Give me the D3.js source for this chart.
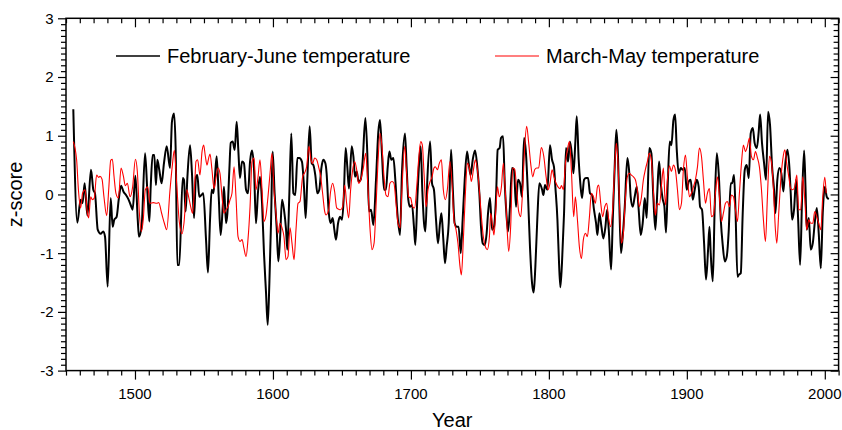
<!DOCTYPE html>
<html>
<head>
<meta charset="utf-8">
<script src="https://cdn.jsdelivr.net/npm/d3@7/dist/d3.min.js"></script>
<style>
  html, body { margin: 0; padding: 0; background: #fff; }
  svg { display: block; font-family: "Liberation Sans", Arial, sans-serif; }
</style>
</head>
<body>
<svg id="chart" width="842" height="430"></svg>
<script>
// ---------------- DATA ----------------
const fjYears = [1455.3,1458.2,1460.6,1462,1463.5,1465.5,1468.1,1469.8,1471,1473,1475.1,1477,1478.3,1480.2,1482.4,1483.8,1485,1486.7,1488.2,1489.9,1491.6,1493.5,1495.2,1497.4,1498.3,1500.3,1502,1502.9,1504.8,1507.3,1508.9,1510.4,1511.4,1512.8,1514,1515.2,1516.2,1517.6,1519.3,1521,1523,1525.4,1526.8,1528.3,1529.5,1530.7,1532.1,
1534.6,1535.5,1536.7,1538,1539.9,1541.3,1542.8,1544.2,1545.2,1546.6,1548.1,1549.5,1551.5,1552.9,1554.4,1555.6,1556.8,1557.8,1559.2,1560.7,1562.1,1563.6,1564.5,1566,1567,1568.4,1569.4,1570.8,1572.3,1573.7,1574.9,1576.1,1577.6,1579,1580.5,1581.9,1583.4,1584.8,1586.3,1587.7,1589.2,1590.6,1592.1,1593.5,1595,1596.2,1597.4,1598.6,1599.8,1601.2,1602.7,1603.9,1605.1,1606.6,1608,1609.5,1610.4,1611.9,1613.3,1614.8,1616.2,1617.7,1619.1,
1621,1622.5,1623.7,1624.9,1626.6,1628.1,1629.3,1630.7,1632.2,1633.6,1635.1,1636.5,1638,1638.9,1640.4,1641.8,1643.3,1644.5,1645.7,1647.2,1648.6,1650.1,1651.3,1652.7,1653.9,1655.1,1657.1,1658.3,1659.5,1660.7,1662.1,1663.6,1665,1667,1668.4,1669.6,1671.1,1672.8,1674.7,1676.4,1677.6,1679,1680.5,1681.9,1683.2,1684.4,1685.8,1687.3,1688.7,1690.2,1692.1,1693.5,1695.7,1696.9,1698.1,1699.3,1700.8,1702.2,1703.2,1704.7,1706.1,1707.1,
1708.3,1709.5,1710.5,1711.9,1713.9,1715.3,1716.7,1718.2,1719.6,1721.1,1722.1,1723.5,1724.7,1725.9,1727.4,1729.1,1730.3,1731.7,1733.2,1734.6,1736.1,1737.5,1739,1740.7,1741.9,1743.3,1744.8,1746.5,1748.2,1749.6,1750.8,1752,1753.5,1754.9,1755.9,1757.3,1758.8,1760.2,1761.7,1762.9,1764.3,1765.3,1766.8,1768,1769.2,1770.4,1771.8,1773.3,1774.7,1776.2,1777.6,1779.1,1780.5,1782,1783.4,1784.9,1786.3,1787.8,1789,1790.2,1791.6,1793.1,
1795.1,1796,1797.2,1798.9,1800.8,1802.3,1803.7,1804.7,1806.2,1807.1,1808.3,1809.5,1811,1812.4,1813.9,1815.3,1816.8,1817.8,1819.2,1820.2,1821.6,1822.8,1824,1825.5,1826.9,1828.4,1829.8,1831.3,1832.7,1834.2,1835.2,1836.6,1838.1,1839.5,1841,1842.2,1843.4,1845.1,1846.3,1847.7,1848.9,1850.1,1851.1,1852.3,1853.5,1855,1856.9,1858.3,1859.3,1860.8,1862.2,1863.7,1865.1,1866.6,1868,1869.5,1870.9,1872.8,1874.3,1875.7,1877.2,1878.6,1879.9,1881.1,
1882.5,1883.7,1884.9,1886.2,1887.6,1888.8,1890.3,1891.5,1892.7,1894.1,1895.6,1897,1898.5,1899.9,1901.4,1902.8,1904.3,1905.7,1907.2,1908.6,1909.6,1911,1912.5,1913.9,1915.4,1916.4,1917.3,1918.8,1920.2,1921.7,1923.1,1924.6,1926,1927.5,1928.9,1930.4,1931.8,1932.8,1934.2,1935.2,1936.7,1937.6,1939.1,1940.5,1942,1943.4,1944.9,1946.3,1947.8,1949.2,1950.7,1952.1,1953.1,1954.5,1956,1957.4,1958.9,1960.3,1961.8,1963.2,1964.2,1965.6,1967.1,1968.5,1970,1971.4,1972.9,1974.3,1975.3,1976.3,1977.7,1979.2,1980.6,1982.1,1983.5,1985,1986,1986.9,1988.4,1989.8,1991.3,1992.7,1994.2,1995.6,1997.1,1998.5,2000,2001.4,2002.9];
const fjValues = [1.45,-0.48,-0.09,-0.15,0.19,-0.36,0.42,0.08,0.02,-0.6,-0.67,-0.63,-0.72,-1.57,-0.06,-0.55,-0.43,-0.38,-0.09,0.15,0.05,-0.01,-0.08,-0.21,-0.26,0.32,-0.43,-0.72,-0.55,0.70,0.08,-0.46,0.13,0.67,0.67,0.16,0.59,0.42,0.19,0.53,0.82,0.45,1.24,1.38,0.76,-1.2,-1.2,
0.28,0.25,-0.29,0.3,0.84,0.36,-0.4,0.3,0.33,-0.04,-0.01,0.02,-0.77,-1.33,-0.43,0.08,0.02,0.25,0.65,-0.04,-0.69,-0.21,0.13,-0.49,-0.32,0.42,0.88,0.9,0.76,1.24,0.76,0.28,0.56,0.53,0.08,0.02,0.56,0.75,0.42,-0.49,0.05,0.3,-0.15,-1.0,-1.68,-2.22,-1.51,-0.49,0.73,0.02,-0.57,-1.14,-0.77,-0.09,-0.26,-0.6,-0.94,0.02,1.04,0.02,-0.01,0.62,0.62,
0.56,0.13,-0.4,0.25,1.16,0.53,0.5,0.33,0.02,0.08,0.45,0.59,0.53,0.36,-0.29,-0.49,-0.4,-0.6,-0.77,-0.49,-0.38,-0.43,-0.06,0.79,0.47,0.1,0.82,0.65,0.3,0.39,0.22,0.25,0.56,1.3,0.7,-0.29,-0.26,-0.52,0.25,1.07,1.27,0.7,0.08,0.08,0.47,0.73,0.59,0.62,0.25,-0.32,-0.69,0.36,1.04,0.47,-0.09,-0.21,-0.18,-0.55,-0.86,-0.04,0.59,0.82,
0.05,-0.49,-0.63,0.25,0.9,0.19,0.08,-0.43,-0.83,-0.49,-0.32,-0.77,-1.17,-0.89,-0.49,0.76,0.13,-0.49,-0.55,-0.55,-1.0,-0.43,0.25,0.73,0.53,0.33,0.59,0.75,0.45,0.02,-0.55,-0.83,-0.86,-0.66,-0.32,-0.06,-0.6,-0.55,-0.04,0.76,0.79,0.96,0.99,0.19,-0.32,-0.63,-0.21,0.45,0.42,-0.21,0.25,0.19,-0.04,0.96,0.7,-0.04,-0.89,-1.51,-1.67,-1.23,-0.43,0.19,
0.08,-0.01,0.16,0.08,0.84,0.59,0.47,0.13,-0.43,-1.0,-1.58,-1.17,-0.32,0.79,0.56,0.9,0.65,0.36,0.9,1.33,0.59,0.19,-0.06,0.25,0.28,0.28,0.02,-0.01,-0.26,-0.49,-0.69,-0.32,-0.55,-0.75,-0.55,-0.26,-0.6,-1.28,-0.43,0.47,1.1,0.65,-0.21,-1.0,-0.72,-0.21,0.62,0.36,-0.04,-0.21,-0.04,0.13,-0.26,-0.69,-0.49,-0.06,-0.4,0.79,0.7,-0.04,-0.6,0.05,0.56,0.19,
-0.08,-0.2,-0.65,0.2,0.9,0.84,1.27,1.36,0.76,0.36,0.45,0.42,0.45,0.08,0.22,0.25,-0.09,0.08,0.25,0.13,-0.21,-0.26,-0.83,-1.45,-0.94,-0.55,-1.0,-1.48,-0.21,0.7,0.36,-0.43,-0.86,-1.14,-1.06,-0.6,0.19,0.19,0.33,-0.21,-1.4,-1.37,-1.34,-0.32,0.42,0.5,0.28,1.04,1.13,0.87,0.79,1.07,1.36,0.87,0.53,0.25,1.41,1.18,0.47,0.08,-0.32,0.25,0.45,0.36,0.05,0.53,0.76,0.47,0.02,-0.43,-0.26,0.25,-0.38,-1.2,-0.09,0.75,0.13,-0.6,-0.4,-0.94,-0.83,-0.49,-0.23,-0.66,-1.26,-0.32,0.13,-0.04,-0.08];

const mmYears = [1455.3,1457.7,1459,1460.6,1462,1463.8,1465.5,1466.4,1467.9,1469.1,1470.5,1472.2,1473.7,1474.6,1476.1,1477.5,1479.5,1481,1482.4,1483.6,1484.8,1486.2,1488,1489.9,1491.6,1493,1494.5,1496.4,1498.3,1500.3,1501.7,1503.2,1504.6,1506,1507.5,1509.2,1510.9,1513.3,1515.7,1517.2,1519.3,1521.3,1523,1525.4,1527.1,1528.5,1530.2,1532.1,
1534.1,1535.5,1537.5,1538.9,1540.4,1541.8,1543.3,1544.2,1545.4,1547.1,1548.6,1549.8,1551,1552.2,1553.4,1554.4,1555.8,1557.3,1558.7,1560.2,1561.6,1563.1,1564.5,1566,1567.4,1568.9,1570.3,1571.8,1573.2,1574.7,1576.1,1577.6,1579,1580.5,1581.9,1583.4,1584.8,1586.3,1587.7,1589.2,1590.6,1592.1,1593.5,1595,1596.4,1597.9,1599.3,1600.8,1602.2,1603.7,1605.1,1606.6,1608,1609.5,1610.9,1612.4,1613.8,1615.3,1616.7,1618.2,1619.6,
1621.5,1623,1624.4,1626.1,1627.6,1628.8,1630.2,1631.7,1633.1,1634.6,1636,1637.5,1638.5,1640.4,1641.8,1643.3,1644.7,1646.2,1647.6,1649.1,1650.5,1652,1653.4,1654.9,1656.3,1657.8,1659.2,1660.7,1662.1,1663.6,1665.5,1667.2,1668.7,1670.4,1671.8,1673.3,1674.7,1676.1,1677.6,1679,1680.5,1681.9,1683.4,1684.8,1686.3,1687.7,1689.2,1690.6,1692.1,1693.5,1695.5,1696.9,1698.4,1699.8,1701.3,1702.7,1704.2,1705.6,1707.1,
1708.3,1709.5,1711,1712.4,1713.9,1715.3,1716.7,1717.7,1719.2,1720.6,1722.1,1723.5,1725,1726.4,1728.3,1729.8,1731.2,1732.7,1734.1,1735.6,1736.6,1738,1739.5,1740.9,1742.4,1743.8,1745.3,1746.7,1748.2,1749.6,1751.1,1752.5,1754,1755.4,1756.9,1757.8,1759.3,1760.2,1761.7,1762.7,1764.1,1765.6,1767,1768.5,1769.9,1770.9,1772.3,1773.8,1775.2,1776.7,1778.1,1779.6,1781,1782.5,1783.9,1785.4,1786.8,1788.3,1789.7,1791.2,1792.6,
1794.5,1796.3,1798,1799.4,1800.8,1802.3,1803.7,1805.2,1806.6,1808.1,1809.1,1810.5,1812,1813.4,1814.9,1816.3,1818,1819.2,1820.7,1822.1,1823.6,1825,1826.5,1827.9,1829.4,1830.8,1832.3,1833.7,1835.2,1836.1,1837.6,1839,1840.5,1841.9,1843.4,1844.8,1846.3,1847.7,1848.9,1850.1,1851.1,1852.6,1854,1855.4,1856.9,1858.3,1859.8,1861.3,1862.7,1864.1,1865.6,1867,1868.5,1869.9,1871.4,1872.8,1874.3,1875.7,1877.2,1878.6,1880.1,
1882,1883,1884.5,1885.9,1887.4,1888.8,1890.3,1891.7,1893.2,1894.6,1896.1,1897.5,1899,1900.4,1901.9,1903.3,1904.8,1906.2,1907.7,1909.1,1910.6,1912,1913.5,1914.9,1916.4,1917.8,1919.3,1920.7,1922.2,1923.6,1925.1,1926.5,1928,1929.4,1930.9,1932.3,1933.8,1935.2,1936.7,1938.1,1939.6,1941,1942.5,1943.9,1945.4,1946.8,1948.3,1949.7,1951.2,1952.6,1954.1,1955.5,1957,1958.4,1959.9,1961.3,1962.8,1964.2,1965.2,1966.6,1968.1,1969.5,1971,1972.4,1973.9,1975.3,1976.8,1978.2,1979.7,1981.1,1982.6,1984,1985.5,1986.9,1988.4,1989.8,1991.3,1992.7,1994.2,1995.6,1997.1,1998.5,2000,2001];
const mmValues = [0.9,0.59,0.08,-0.23,0.02,0.08,-0.32,-0.4,-0.04,-0.09,-0.06,0.33,0.29,0.31,0.26,-0.04,-0.36,0.1,0.58,0.6,0.31,0.02,-0.06,0.45,0.31,0.15,0.19,-0.04,0.13,0.6,0.39,-0.32,-0.63,-0.43,0.08,0.13,-0.15,-0.14,-0.15,-0.14,-0.32,-0.49,-0.6,0.08,0.5,0.75,0.19,-0.46,
-0.67,-0.49,0.08,-0.04,-0.21,-0.32,0.19,0.56,0.59,0.33,0.73,0.84,0.65,0.5,0.62,0.69,0.42,0.1,0.28,0.45,0.36,-0.04,-0.32,-0.26,-0.21,-0.09,0.02,0.47,-0.04,-0.72,-0.8,-0.77,-0.92,-1.06,-0.77,-0.21,0.56,0.62,0.08,0.3,0.59,0.08,-0.46,-0.35,-0.04,0.36,0.7,0.05,-0.32,-0.66,-0.49,-0.57,-0.72,-1.11,-1.06,-0.57,-0.83,-1.11,-0.6,-0.15,-0.12,
0.3,0.37,0.47,0.82,0.59,0.53,0.62,0.59,0.47,0.3,0.02,-0.29,-0.35,-0.26,0.05,0.19,0.05,-0.23,-0.25,-0.26,-0.21,0.16,-0.15,-0.4,0.08,0.42,0.56,0.42,0.19,0.25,0.45,0.7,0.19,-0.6,-0.94,-0.83,-0.21,0.53,1.04,0.82,0.3,-0.01,-0.04,0.19,0.22,0.19,-0.15,-0.49,-0.57,0.08,0.82,0.36,-0.04,-0.06,-0.21,-0.23,0.13,0.59,0.9,
0.84,0.36,-0.21,0.08,0.22,0.3,0.45,0.47,0.42,0.53,0.59,0.08,-0.09,0.08,0.56,0.19,-0.43,-0.6,-0.83,-1.23,-1.37,-0.77,0.02,0.53,0.45,0.22,0.42,0.59,0.42,0.08,-0.38,-0.72,-0.89,-0.94,-0.72,-0.32,-0.55,-0.69,-0.21,0.13,-0.04,0.13,0.53,0.02,-0.66,-0.97,-0.55,0.45,0.43,0.08,-0.29,-0.38,0.08,0.82,1.16,0.87,0.53,0.3,0.42,0.45,0.45,
0.8,0.65,0.3,0.08,0.19,0.42,0.3,0.19,0.13,0.1,0.15,0.08,0.53,0.76,0.9,0.42,-0.38,-0.04,-0.43,-0.89,-1.09,-0.77,-0.66,-0.72,-0.38,0.02,-0.04,-0.15,0.13,0.16,-0.15,-0.38,-0.21,-0.15,-0.43,-0.55,-0.21,0.47,0.87,0.53,-0.09,-0.83,-0.66,-0.09,0.3,0.36,0.33,0.3,0.25,0.08,-0.21,-0.06,0.25,0.42,0.56,0.7,0.59,0.08,-0.35,-0.15,-0.18,
0.25,0.45,-0.18,0.25,0.49,0.39,0.5,0.42,0.08,-0.26,-0.15,0.42,0.67,0.3,-0.04,0.02,0.13,0.25,0.47,0.79,0.65,0.25,-0.15,0.02,0.1,-0.38,-0.35,0.02,0.3,-0.04,-0.46,-0.32,-0.15,-0.12,-0.21,-0.01,-0.04,-0.26,-0.46,0.02,0.53,0.84,0.73,0.82,0.96,0.65,0.59,0.73,0.62,0.47,0.08,-0.43,-0.8,-0.04,0.65,0.56,0.08,-0.6,-0.83,-0.32,0.25,0.59,0.76,0.53,0.3,0.1,0.08,0.13,0.33,-0.26,-0.26,0.3,-0.09,-0.6,-0.43,-0.49,-0.49,-0.29,-0.38,-0.49,-0.6,-0.04,0.29,0.02];

const xMajorTicks = [1500, 1600, 1700, 1800, 1900, 2000];
const yMajorTicks = [-3, -2, -1, 0, 1, 2, 3];
const seriesNames = ["February-June temperature", "March-May temperature"];
const seriesColors = ["#000000", "#ff0000"];
const xTitle = "Year";
const yTitle = "z-score";

// ---------------- LAYOUT ----------------
const L = 66, R = 838.6, T = 18.3, B = 370.6;
const svg = d3.select("#chart");
const x = d3.scaleLinear().domain([1450, 2010]).range([L, R]);
const y = d3.scaleLinear().domain([-3, 3]).range([B, T]);

const xMinor = d3.range(1450, 2011, 10).filter(v => !xMajorTicks.includes(v));
const yMinor = d3.range(-30, 31, 1).map(v => v / 10).filter(v => !yMajorTicks.includes(v));

function tickGroup(axisGen, tx, ty) {
  const g = svg.append("g").attr("transform", `translate(${tx},${ty})`).call(axisGen);
  g.select(".domain").remove();
  g.selectAll("line").attr("stroke", "#000").attr("stroke-width", 1.2);
  g.selectAll("text").remove();
  return g;
}
// bottom (outward)
tickGroup(d3.axisBottom(x).tickValues(xMajorTicks).tickSize(9), 0, B);
tickGroup(d3.axisBottom(x).tickValues(xMinor).tickSize(5), 0, B);
// top (inward)
tickGroup(d3.axisBottom(x).tickValues(xMajorTicks).tickSize(9), 0, T);
tickGroup(d3.axisBottom(x).tickValues(xMinor).tickSize(5), 0, T);
// left (outward)
tickGroup(d3.axisLeft(y).tickValues(yMajorTicks).tickSize(8), L, 0);
tickGroup(d3.axisLeft(y).tickValues(yMinor).tickSize(5), L, 0);
// right (inward)
tickGroup(d3.axisLeft(y).tickValues(yMajorTicks).tickSize(8), R, 0);
tickGroup(d3.axisLeft(y).tickValues(yMinor).tickSize(5), R, 0);

// tick labels
svg.append("g").selectAll("text").data(xMajorTicks).join("text")
  .attr("x", d => x(d)).attr("y", 399).attr("text-anchor", "middle")
  .attr("font-size", 15).attr("fill", "#000").text(d => d);
svg.append("g").selectAll("text").data(yMajorTicks).join("text")
  .attr("x", 53.5).attr("y", d => y(d)).attr("dy", "0.36em").attr("text-anchor", "end")
  .attr("font-size", 15).attr("fill", "#000").text(d => d);

// titles
svg.append("text").attr("x", (L + R) / 2).attr("y", 427).attr("text-anchor", "middle")
  .attr("font-size", 20).attr("fill", "#000").text(xTitle);
svg.append("text").attr("transform", `translate(22,${(T + B) / 2}) rotate(-90)`)
  .attr("text-anchor", "middle").attr("font-size", 20).attr("fill", "#000").text(yTitle);

// lines
const line = d3.line().x(d => x(d[0])).y(d => y(d[1])).curve(d3.curveMonotoneX);
const fj = fjYears.map((yr, i) => [yr, fjValues[i]]);
const mm = mmYears.map((yr, i) => [yr, mmValues[i]]);
svg.append("path").datum(fj).attr("d", line).attr("fill", "none")
  .attr("stroke", seriesColors[0]).attr("stroke-width", 2).attr("stroke-linejoin", "round");
svg.append("path").datum(mm).attr("d", line).attr("fill", "none")
  .attr("stroke", seriesColors[1]).attr("stroke-width", 1.1).attr("stroke-linejoin", "round");

// frame
svg.append("rect").attr("x", L).attr("y", T).attr("width", R - L).attr("height", B - T)
  .attr("fill", "none").attr("stroke", "#000").attr("stroke-width", 1.5);

// legend
const legend = [
  { x1: 116, x2: 160, tx: 167, name: seriesNames[0], color: seriesColors[0], w: 1.6 },
  { x1: 495, x2: 539, tx: 546, name: seriesNames[1], color: seriesColors[1], w: 1.2 }
];
legend.forEach(l => {
  svg.append("line").attr("x1", l.x1).attr("x2", l.x2).attr("y1", 56).attr("y2", 56)
    .attr("stroke", l.color).attr("stroke-width", l.w);
  svg.append("text").attr("x", l.tx).attr("y", 63).attr("font-size", 20)
    .attr("fill", "#000").text(l.name);
});
</script>
</body>
</html>
